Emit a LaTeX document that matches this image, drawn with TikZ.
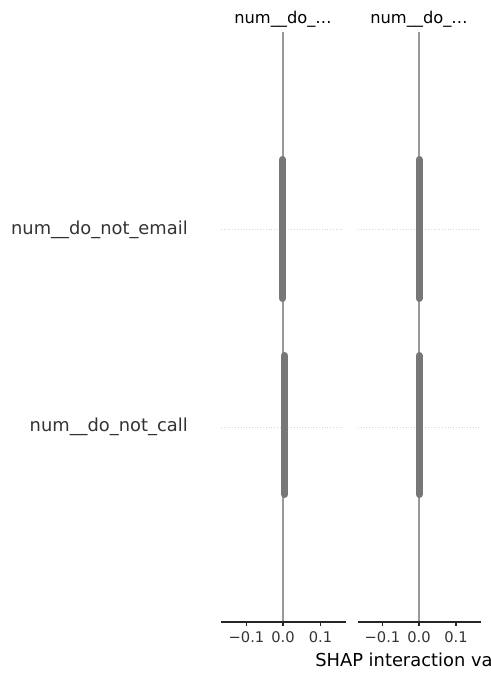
\documentclass[tikz,border=0pt]{standalone}
\usepackage{fontspec}
\setmainfont{DejaVu Sans}
\definecolor{bargray}{HTML}{777777}
\definecolor{linegray}{HTML}{999999}
\definecolor{dotgray}{HTML}{D8D8D8}
\definecolor{txtgray}{HTML}{333333}
\begin{document}
\begin{tikzpicture}[x=0.75pt,y=-0.75pt,
  ylab/.style={anchor=east,inner sep=0pt,text=txtgray,font=\fontsize{13.4}{16}\selectfont},
  ttl/.style={inner sep=0pt,text=black,font=\fontsize{12.2}{14}\selectfont},
  ticklab/.style={inner sep=0pt,text=txtgray,font=\fontsize{11}{13}\selectfont},
  xlab/.style={anchor=west,inner sep=0pt,text=black,font=\fontsize{13.4}{16}\selectfont},
  axisline/.style={draw=black!85,line width=0.8pt},
  tickmark/.style={draw=black!85,line width=0.8pt},
  zeroline/.style={draw=linegray,line width=1.5pt},
  barline/.style={draw=bargray,line width=5.25pt,line cap=round},
  rowline/.style={draw=dotgray,line width=0.75pt,dash pattern=on 0.75pt off 1.35pt}]
\useasboundingbox (0,0) rectangle (490,680);
\clip (0,0) rectangle (490,680);
% row guide lines
\coordinate (r1a) at (221,229.5); \coordinate (r1b) at (343,229.5);
\coordinate (r2a) at (221,427);   \coordinate (r2b) at (343,427);
\coordinate (r3a) at (358,229.5); \coordinate (r3b) at (479,229.5);
\coordinate (r4a) at (358,427);   \coordinate (r4b) at (479,427);
\draw[rowline] (r1a) -- (r1b);
\draw[rowline] (r2a) -- (r2b);
\draw[rowline] (r3a) -- (r3b);
\draw[rowline] (r4a) -- (r4b);
% zero lines
\coordinate (z1t) at (283,32); \coordinate (z1b) at (283,622);
\coordinate (z2t) at (419,32); \coordinate (z2b) at (419,622);
\draw[zeroline] (z1t) -- (z1b);
\draw[zeroline] (z2t) -- (z2b);
% bars
\coordinate (b1t) at (282.5,159.5); \coordinate (b1b) at (282.5,298.5);
\coordinate (b2t) at (284.5,355.5); \coordinate (b2b) at (284.5,494.5);
\coordinate (b3t) at (419,159.5);   \coordinate (b3b) at (419,298.5);
\coordinate (b4t) at (419,355.5);   \coordinate (b4b) at (419,494.5);
\draw[barline] (b1t) -- (b1b);
\draw[barline] (b2t) -- (b2b);
\draw[barline] (b3t) -- (b3b);
\draw[barline] (b4t) -- (b4b);
% axes
\coordinate (a1l) at (221,622); \coordinate (a1r) at (346,622);
\coordinate (a2l) at (357.5,622); \coordinate (a2r) at (481,622);
\draw[axisline] (a1l) -- (a1r);
\draw[axisline] (a2l) -- (a2r);
\foreach \x/\n in {246.5/m1,283/z1,320.5/p1,382.5/m2,419/z2,456/p2}{
  \coordinate (t\n) at (\x,622);
  \coordinate (u\n) at (\x,626);
  \draw[tickmark] (t\n) -- (u\n);
}
\foreach \x/\n/\s in {246.5/m1/−0.1,283/z1/0.0,320.5/p1/0.1,382.5/m2/−0.1,419/z2/0.0,456/p2/0.1}{
  \node[ticklab] (l\n) at (\x,637) {\s};
}
% titles
\node[ttl] (title1) at (283,19) {num\_\_do\_…};
\node[ttl] (title2) at (419,19) {num\_\_do\_…};
% y labels
\node[ylab] (ylab1) at (188,230) {num\_\_do\_not\_email};
\node[ylab] (ylab2) at (188,427) {num\_\_do\_not\_call};
% x label (cut off by the right edge, as in the reference)
\node[xlab] (xlabel) at (315,660) {SHAP interaction value};
\end{tikzpicture}
\end{document}
